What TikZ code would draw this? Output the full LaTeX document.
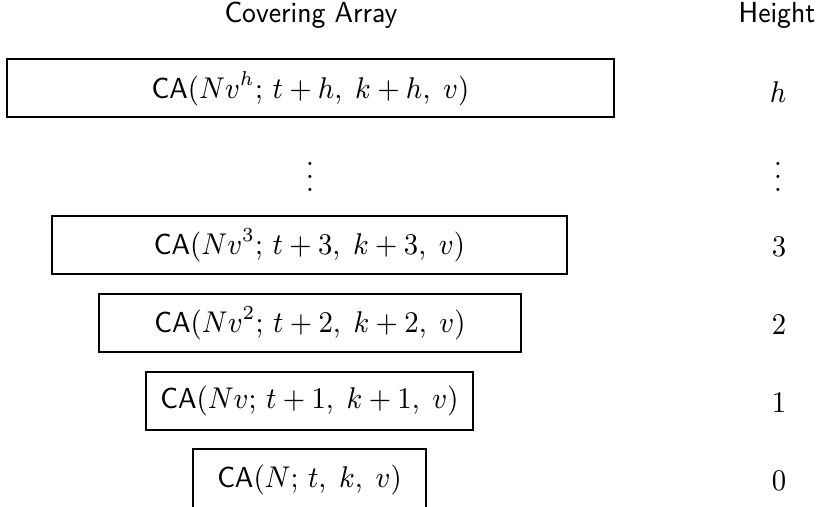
\documentclass[tikz,border=0pt]{standalone}
\usepackage{graphicx}
\newcommand{\hsq}[1]{\scalebox{0.93}[1]{#1}}
\begin{document}
\begin{tikzpicture}[x=0.3pt,y=-0.3pt,
  fnt/.style={font=\fontsize{8.7}{10}\selectfont},
  cabox/.style={draw, line width=0.6pt, inner sep=0pt, minimum height=17.4pt, fnt},
  lbl/.style={inner sep=0pt, fnt}]
\useasboundingbox (0,0) rectangle (819,507);
\node[lbl] (title) at (311,15) {\hsq{\textsf{Covering Array}}};
\node[lbl] (htitle) at (777,15) {\hsq{\textsf{Height}}};
\node[cabox, minimum width=182.1pt] (bh) at (310.5,88.5) {\hsq{\textsf{CA}$(Nv^h;\, t+h,\; k+h,\; v)$}};
\node[lbl] (dots) at (310,167) {$\vdots$};
\node[cabox, minimum width=154.5pt] (b3) at (309.5,245) {\hsq{\textsf{CA}$(Nv^3;\, t+3,\; k+3,\; v)$}};
\node[cabox, minimum width=126.6pt] (b2) at (310,323) {\hsq{\textsf{CA}$(Nv^2;\, t+2,\; k+2,\; v)$}};
\node[cabox, minimum width=98.1pt] (b1) at (309.5,401) {\hsq{\textsf{CA}$(Nv;\, t+1,\; k+1,\; v)$}};
\node[cabox, minimum width=69.9pt, minimum height=18.6pt] (b0) at (309.5,480) {\hsq{\textsf{CA}$(N;\, t,\; k,\; v)$}};
\node[lbl] (hh) at (778,92) {\hsq{$h$}};
\node[lbl] (hd) at (778,167) {$\vdots$};
\node[lbl] (h3) at (779,247) {\hsq{$3$}};
\node[lbl] (h2) at (779,325) {\hsq{$2$}};
\node[lbl] (h1) at (779,403) {\hsq{$1$}};
\node[lbl] (h0) at (779,481) {\hsq{$0$}};
\end{tikzpicture}
\end{document}
